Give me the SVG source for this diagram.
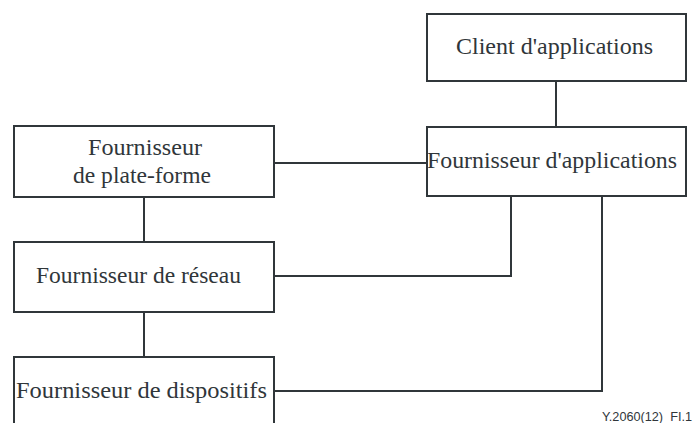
<svg xmlns="http://www.w3.org/2000/svg" width="694" height="423" viewBox="0 0 694 423">
<style>
.box{fill:#fff;stroke:#30363a;stroke-width:2}
.ln{fill:none;stroke:#30363a;stroke-width:2}
.t{font-family:"Liberation Serif","Times New Roman",serif;font-size:24px;fill:#30363a}
.lbl{font-family:"Liberation Sans",Arial,sans-serif;font-size:13px;fill:#30363a}
</style>
<rect width="694" height="423" fill="#fff"/>
<g id="connectors">
<line class="ln" x1="556" y1="81" x2="556" y2="127"/>
<line class="ln" x1="274" y1="163" x2="427" y2="163"/>
<line class="ln" x1="144" y1="197" x2="144" y2="242"/>
<polyline class="ln" points="274,276 511,276 511,196"/>
<line class="ln" x1="144" y1="312" x2="144" y2="357"/>
<polyline class="ln" points="274,391 602,391 602,196"/>
</g>
<g id="client">
<rect class="box" x="427" y="14" width="259" height="67"/>
<text class="t" x="456" y="54" textLength="197" lengthAdjust="spacingAndGlyphs">Client d'applications</text>
</g>
<g id="app">
<rect class="box" x="427" y="127" width="259" height="69"/>
<text class="t" x="427" y="168" textLength="250" lengthAdjust="spacingAndGlyphs">Fournisseur d'applications</text>
</g>
<g id="platform">
<rect class="box" x="14" y="126" width="260" height="71"/>
<text class="t" x="88" y="155" textLength="114" lengthAdjust="spacingAndGlyphs">Fournisseur</text>
<text class="t" x="73" y="183" textLength="138" lengthAdjust="spacingAndGlyphs">de plate-forme</text>
</g>
<g id="network">
<rect class="box" x="14" y="242" width="260" height="70"/>
<text class="t" x="36" y="283" textLength="205" lengthAdjust="spacingAndGlyphs">Fournisseur de réseau</text>
</g>
<g id="device">
<rect class="box" x="14" y="357" width="260" height="80"/>
<text class="t" x="16" y="398" textLength="251" lengthAdjust="spacingAndGlyphs">Fournisseur de dispositifs</text>
</g>
<text class="lbl" x="692" y="421" text-anchor="end" textLength="90" lengthAdjust="spacingAndGlyphs">Y.2060(12)_FI.1</text>
</svg>
